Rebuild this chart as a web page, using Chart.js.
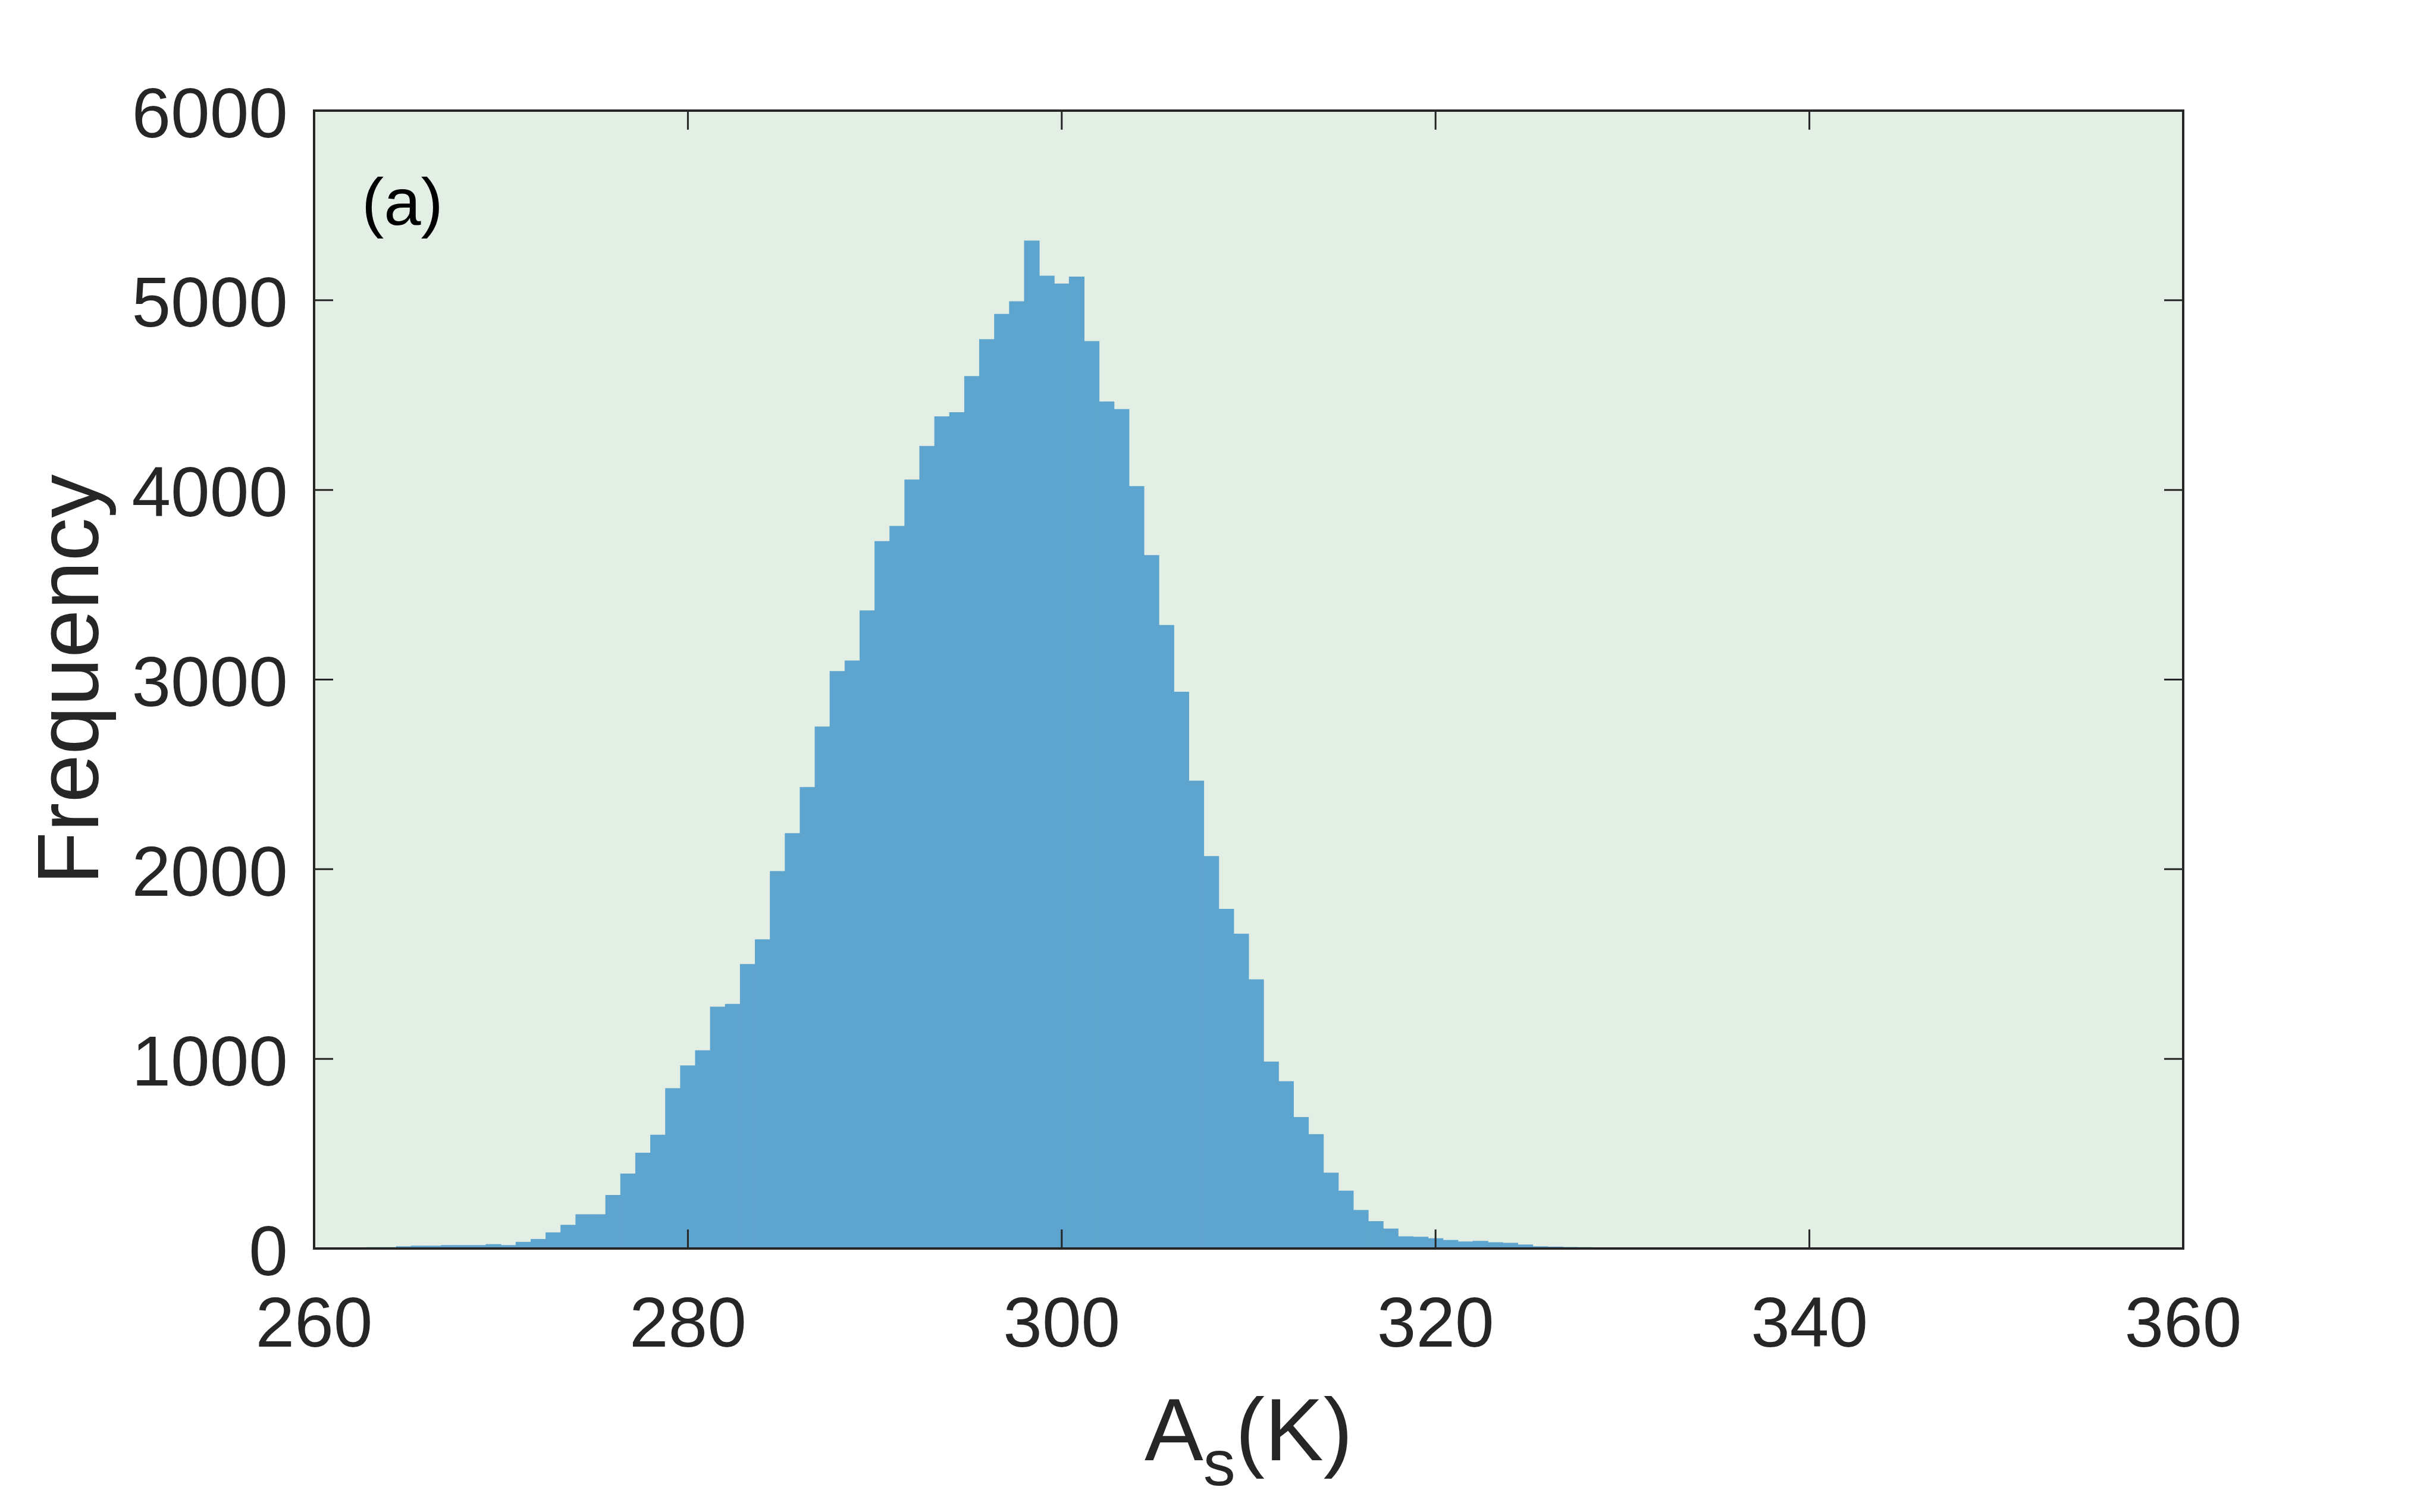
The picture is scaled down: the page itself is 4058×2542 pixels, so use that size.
<!DOCTYPE html>
<html>
<head>
<meta charset="utf-8">
<script src="https://cdn.jsdelivr.net/npm/chart.js@4.4.1/dist/chart.umd.min.js"></script>
<style>
  html, body { margin: 0; padding: 0; background: #fff; }
  canvas { display: block; }
</style>
</head>
<body>
<canvas id="histChart" width="4058" height="2542"></canvas>
<script>
// histogram bins (centre of each 0.8 K bin) and counts
const binCenters = [
  262.4, 263.2, 264.0, 264.8, 265.6, 266.4, 267.2, 268.0, 268.8, 269.6,
  270.4, 271.2, 272.0, 272.8, 273.6, 274.4, 275.2, 276.0, 276.8, 277.6,
  278.4, 279.2, 280.0, 280.8, 281.6, 282.4, 283.2, 284.0, 284.8, 285.6,
  286.4, 287.2, 288.0, 288.8, 289.6, 290.4, 291.2, 292.0, 292.8, 293.6,
  294.4, 295.2, 296.0, 296.8, 297.6, 298.4, 299.2, 300.0, 300.8, 301.6,
  302.4, 303.2, 304.0, 304.8, 305.6, 306.4, 307.2, 308.0, 308.8, 309.6,
  310.4, 311.2, 312.0, 312.8, 313.6, 314.4, 315.2, 316.0, 316.8, 317.6,
  318.4, 319.2, 320.0, 320.8, 321.6, 322.4, 323.2, 324.0, 324.8, 325.6,
  326.4, 327.2, 328.0, 328.8, 329.6, 330.4, 331.2, 332.0, 332.8, 333.6,
  334.4, 335.2, 336.0, 336.8, 337.6, 338.4, 339.2, 340.0, 340.8, 341.6
];
const counts = [
  5, 7, 7, 12, 15, 15, 18, 18, 18, 23,
  18, 35, 50, 85, 125, 180, 180, 282, 395, 505,
  600, 845, 965, 1045, 1275, 1290, 1500, 1630, 1990, 2190,
  2433, 2752, 3045, 3100, 3365, 3730, 3810, 4055, 4232, 4388,
  4410, 4600, 4795, 4928, 4995, 5315, 5130, 5088, 5125, 4785,
  4466, 4426, 4020, 3656, 3288, 2936, 2467, 2069, 1791, 1660,
  1419, 986, 882, 693, 603, 400, 305, 203, 144, 105,
  64, 62, 54, 45, 37, 40, 33, 30, 21, 12,
  10, 8, 7, 6, 5, 5, 4, 4, 3, 4,
  3, 3, 2, 3, 2, 2, 3, 1, 1, 0
];
const xTicks = [260, 280, 300, 320, 340, 360];
const yTicks = [0, 1000, 2000, 3000, 4000, 5000, 6000];

const FONT = '"Liberation Sans", Arial, Helvetica, sans-serif';
const axisColor = '#262626';
const plotBg = 'rgb(227,238,229)';
const barColor = 'rgb(93,164,206)';

// plot background, inward ticks on all four sides, box, panel label and x title
const frame = {
  id: 'frame',
  beforeDatasetsDraw(chart) {
    const { ctx, chartArea: a } = chart;
    ctx.save();
    ctx.fillStyle = plotBg;
    ctx.fillRect(a.left, a.top, a.right - a.left, a.bottom - a.top);
    ctx.restore();
  },
  afterDatasetsDraw(chart) {
    const { ctx, chartArea: a, scales } = chart;
    const tick = 32;
    ctx.save();
    ctx.strokeStyle = axisColor;
    ctx.lineWidth = 3;
    ctx.beginPath();
    xTicks.forEach((v) => {
      const px = scales.x.getPixelForValue(v);
      ctx.moveTo(px, a.bottom);
      ctx.lineTo(px, a.bottom - tick);
      ctx.moveTo(px, a.top);
      ctx.lineTo(px, a.top + tick);
    });
    yTicks.forEach((v) => {
      const py = scales.y.getPixelForValue(v);
      ctx.moveTo(a.left, py);
      ctx.lineTo(a.left + tick, py);
      ctx.moveTo(a.right, py);
      ctx.lineTo(a.right - tick, py);
    });
    ctx.stroke();
    ctx.lineWidth = 4;
    ctx.strokeRect(a.left, a.top, a.right - a.left, a.bottom - a.top);

    ctx.fillStyle = '#000';
    ctx.textBaseline = 'alphabetic';
    ctx.textAlign = 'left';
    ctx.font = '112px ' + FONT;
    ctx.fillText('(a)', a.left + 80, a.top + 192);

    // x axis title A_s(K)
    const mainFont = '148px ' + FONT;
    const subFont = '108px ' + FONT;
    ctx.fillStyle = axisColor;
    ctx.font = mainFont;
    const wA = ctx.measureText('A').width;
    const wK = ctx.measureText('(K)').width;
    ctx.font = subFont;
    const wS = ctx.measureText('s').width;
    let xPos = (a.left + a.right) / 2 - (wA + wS + wK) / 2;
    const base = 2455;
    ctx.font = mainFont;
    ctx.fillText('A', xPos, base);
    xPos += wA;
    ctx.font = subFont;
    ctx.fillText('s', xPos, base + 42);
    xPos += wS;
    ctx.font = mainFont;
    ctx.fillText('(K)', xPos, base);
    ctx.restore();
  }
};

new Chart(document.getElementById('histChart'), {
  type: 'bar',
  data: {
    datasets: [
      {
        label: 'Frequency',
        data: binCenters.map((c, i) => ({ x: c, y: counts[i] })),
        backgroundColor: barColor,
        borderWidth: 0,
        barPercentage: 1.04,
        categoryPercentage: 1
      }
    ]
  },
  options: {
    responsive: false,
    animation: false,
    layout: { padding: { left: 0, top: 186, right: 388, bottom: 0 } },
    plugins: {
      legend: { display: false },
      tooltip: { enabled: false }
    },
    scales: {
      x: {
        type: 'linear',
        offset: false,
        min: 260,
        max: 360,
        afterBuildTicks: (scale) => { scale.ticks = xTicks.map((v) => ({ value: v })); },
        afterFit: (scale) => { scale.height = 443; },
        grid: { display: false, offset: false, drawTicks: false },
        border: { display: false },
        ticks: {
          padding: 62,
          color: axisColor,
          font: { family: FONT, size: 118 },
          callback: (v) => String(v)
        }
      },
      y: {
        min: 0,
        max: 6000,
        afterBuildTicks: (scale) => { scale.ticks = yTicks.map((v) => ({ value: v })); },
        afterFit: (scale) => { scale.width = 528; },
        grid: { display: false, drawTicks: false },
        border: { display: false },
        ticks: {
          padding: 44,
          labelOffset: 12,
          color: axisColor,
          font: { family: FONT, size: 118 },
          callback: (v) => String(v)
        },
        title: {
          display: true,
          text: 'Frequency',
          color: axisColor,
          font: { family: FONT, size: 146, lineHeight: 1.2 },
          padding: { top: 37, bottom: 0 }
        }
      }
    }
  },
  plugins: [frame]
});
</script>
</body>
</html>
